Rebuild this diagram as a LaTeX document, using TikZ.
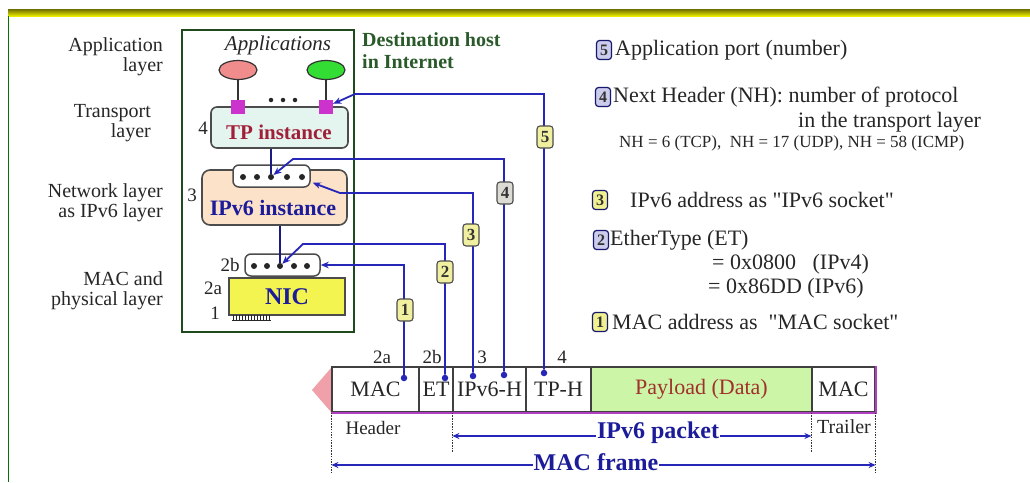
\documentclass[tikz,border=0pt]{standalone}
\usepackage{fontspec}
\setmainfont{Liberation Serif}
\usetikzlibrary{arrows.meta,calc,shapes.geometric}
\definecolor{cblue}{HTML}{2626B8}
\definecolor{hostg}{HTML}{1E4A1E}
\definecolor{destg}{HTML}{2A5A2A}
\definecolor{tpred}{HTML}{A0203A}
\definecolor{ipblue}{HTML}{1C1C9A}
\definecolor{peach}{HTML}{FBE2C8}
\definecolor{tpfill}{HTML}{E4F4EE}
\definecolor{nicy}{HTML}{F4F450}
\definecolor{payg}{HTML}{CDF5A8}
\definecolor{payred}{HTML}{A0302A}
\definecolor{lblf}{HTML}{F0F0A0}
\definecolor{lblg}{HTML}{DCDCD4}
\definecolor{mag}{HTML}{CC33CC}
\definecolor{fbot}{HTML}{B040C0}
\definecolor{appred}{HTML}{F08C8C}
\definecolor{appgreen}{HTML}{33DD33}
\definecolor{pinkt}{HTML}{F0A0A8}
\definecolor{icb}{HTML}{CCCCEC}
\definecolor{icy}{HTML}{F0F090}
\newcommand\myfs[2]{\fontsize{#1}{#2}\selectfont}
\begin{document}
\begin{tikzpicture}[x=1pt,y=-1pt,
  lay/.style={align=right, inner sep=0pt, font=\myfs{20}{20}, text=black!85},
  num/.style={inner sep=0pt, font=\myfs{19}{19}, text=black!85},
  rt/.style={inner sep=0pt, anchor=west, font=\myfs{22}{22}, text=black!85},
  tpbox/.style={draw=black!70, line width=1.6pt, rounded corners=6pt, fill=tpfill, minimum width=137pt, minimum height=41pt, inner sep=0pt},
  ipbox/.style={draw=black!70, line width=1.6pt, rounded corners=8pt, fill=peach, minimum width=145pt, minimum height=55pt, inner sep=0pt},
  dotbox/.style={draw=black!70, line width=1.5pt, rounded corners=6pt, fill=white, minimum height=22pt, inner sep=0pt},
  sdot/.style={circle, fill=black!85, minimum size=6pt, inner sep=0pt},
  edot/.style={circle, fill=black!85, minimum size=4.5pt, inner sep=0pt},
  fdot/.style={circle, fill=cblue, minimum size=6.5pt, inner sep=0pt},
  sq/.style={fill=mag, minimum size=14pt, inner sep=0pt},
  field/.style={draw=black!75, line width=1.2pt, minimum height=45pt, inner sep=0pt, font=\myfs{22}{22}, fill=white, text=black!85},
  link/.style={draw=cblue!70!black, line width=1.4pt},
  conn/.style={draw=cblue, line width=1.8pt},
  connarr/.style={conn, -{Stealth[length=8pt,width=6.5pt]}},
  cl/.style={draw=black!70, fill=lblf, rounded corners=3pt, line width=1.1pt, minimum width=16pt, minimum height=22pt, inner sep=0pt, font=\myfs{17}{17}\bfseries, text=black!80},
  ic/.style={draw=cblue!60!black, rounded corners=3pt, line width=1.2pt, minimum width=15pt, minimum height=19pt, inner sep=0pt, font=\myfs{16}{16}\bfseries, text=black!80},
  dotl/.style={draw=black!80, line width=1.6pt, dash pattern=on 1.5pt off 1.2pt},
  dimarr/.style={draw=cblue, line width=1.5pt, {Stealth[length=7pt,width=6pt]}-{Stealth[length=7pt,width=6pt]}},
  dimlbl/.style={fill=white, inner sep=1pt, font=\myfs{24}{24}\bfseries, text=ipblue}
]
\useasboundingbox (0,0) rectangle (1030,482);
\fill[white] (0,0) rectangle (1030,482);
\shade[top color=olive!85!black, bottom color=yellow!85!olive] (8,9) rectangle (1030,16);
\draw[green!45!black, line width=1.5pt] (8.5,16) -- (8.5,482);

% left layer labels
\node[lay, anchor=east] (lapp) at (163,57) {Application\\layer};
\node[lay, anchor=east] (ltr) at (151,123) {Transport\\layer};
\node[lay, anchor=east] (lnet) at (163,203) {Network layer\\as IPv6 layer};
\node[lay, anchor=east] (lmac) at (163,291) {MAC and\\physical layer};

% host
\node[draw=hostg, line width=2.5pt, minimum width=172pt, minimum height=302pt, inner sep=0pt] (host) at (268,181) {};
\node[inner sep=0pt, font=\myfs{21}{21}\itshape, text=black!85] (apps) at (278,45) {Applications};
\node[align=left, anchor=west, inner sep=0pt, font=\myfs{20}{22}\bfseries, text=destg] (dest) at (362,51) {Destination host\\in Internet};

\node[ellipse, draw=black!80, line width=1.2pt, fill=appred, minimum width=38pt, minimum height=19pt, inner sep=0pt] (e1) at (238,70) {};
\node[ellipse, draw=black!80, line width=1.2pt, fill=appgreen, minimum width=38pt, minimum height=19pt, inner sep=0pt] (e2) at (326,70) {};

\node[tpbox] (tp) at (279.5,127.5) {};
\node[inner sep=0pt, font=\myfs{21}{21}\bfseries, text=tpred] (tpt) at (279,132) {TP instance};
\node[sq] (s1) at (238,107) {};
\node[sq] (s2) at (326,107) {};
\draw[black!80, line width=1.1pt] (e1) -- (s1);
\draw[black!80, line width=1.1pt] (e2) -- (s2);
\foreach \x [count=\i] in {271,283,295} \node[edot] (ell\i) at (\x,100) {};

\node[ipbox] (ipv6) at (274.5,197.5) {};
\node[inner sep=0pt, font=\myfs{22}{22}\bfseries, text=ipblue] (ipt) at (273,208) {IPv6 instance};
\node[dotbox, minimum width=77pt] (ipd) at (271.5,176) {};
\foreach \x [count=\i] in {243,257,271,287,302} \node[sdot] (id\i) at (\x,177) {};

\node[dotbox, minimum width=75pt] (md) at (282.5,265) {};
\foreach \x [count=\i] in {254,267,280,294,307} \node[sdot] (md\i) at (\x,266) {};

\node[draw=black!70, line width=1.5pt, fill=nicy, minimum width=116pt, minimum height=37pt, inner sep=0pt, font=\myfs{24}{24}\bfseries, text=ipblue] (nic) at (287,296.5) {NIC};
\foreach \x in {233,236,...,269} \draw[black!85, line width=0.9pt] (\x,315) -- (\x,320);
\draw[black!85, line width=1pt] (232,320) -- (271,320);

\draw[link] (tp.south -| id3) -- (id3);
\draw[link] (ipv6.south -| md3) -- (md3);

\node[num] (n4) at (203,128) {4};
\node[num] (n3) at (192,195) {3};
\node[num] (n2b) at (230,265) {2b};
\node[num] (n2a) at (213,288) {2a};
\node[num] (n1) at (215,313) {1};

% frame
\fill[pinkt] (312,390) -- (331,368) -- (331,412) -- cycle;
\node[field, minimum width=87pt] (f1) at (375.5,389.5) {MAC};
\node[field, minimum width=34pt] (f2) at (436,389.5) {ET};
\node[field, minimum width=73pt] (f3) at (489.5,389.5) {IPv6-H};
\node[field, minimum width=65pt] (f4) at (558.5,389.5) {TP-H};
\node[field, minimum width=221pt, fill=payg, text=payred] (f5) at (701.5,389.5) {Payload (Data)};
\node[field, minimum width=63pt] (f6) at (843.5,389.5) {MAC};
\draw[fbot, line width=2.2pt] (f1.south west) -- (f6.south east) -- (f6.north east);

\node[num] (t2a) at (382,357) {2a};
\node[num] (t2b) at (432,357) {2b};
\node[num] (t3) at (482,357) {3};
\node[num] (t4) at (562,357) {4};

\node[inner sep=0pt, font=\myfs{19}{19}, text=black!85] (hdr) at (373,428) {Header};
\node[inner sep=0pt, font=\myfs{20}{20}, text=black!85] (trl) at (844,427) {Trailer};

\draw[dotl] (f1.south west) -- ++(0,60);
\draw[dotl] (f3.south west) -- ++(0,40);
\draw[dotl] (f6.south west) -- ++(0,40);
\draw[dotl] (f6.south east) -- ++(0,60);

\draw[dimarr] (f3.south west |- 0,436) -- (f6.south west |- 0,436);
\node[dimlbl] (ipp) at (658,433) {IPv6 packet};
\draw[dimarr] (f1.south west |- 0,465) -- (f6.south east |- 0,465);
\node[dimlbl] (macf) at (596,462) {MAC frame};

% connectors
\node[fdot] (fp1) at (404,378) {};
\node[fdot] (fp2) at (445,378) {};
\node[fdot] (fp3) at (473,376) {};
\node[fdot] (fp4) at (504,375) {};
\node[fdot] (fp5) at (544,373) {};
\draw[connarr] (fp1) |- (md.east);
\draw[connarr] (fp2) -- (fp2 |- 0,244) -- (303,244) -- (md3);
\draw[connarr] (fp3) -- (fp3 |- 0,193) -- (340,193) -- ($(ipd.south east)+(2,-5)$);
\draw[connarr] (fp4) -- (fp4 |- 0,159) -- (293,159) -- (id3);
\draw[connarr] (fp5) -- (fp5 |- 0,94) -- (355,94) -- (s2);
\node[cl] (c1) at (405,310) {1};
\node[cl] (c2) at (445,272) {2};
\node[cl] (c3) at (471,235) {3};
\node[cl, fill=lblg] (c4) at (505,193) {4};
\node[cl] (c5) at (545,137) {5};

% right legend
\node[ic, fill=icb] (r5) at (604,50) {5};
\node[rt] (t5) at (615,50) {Application port (number)};
\node[ic, fill=icb] (r4) at (603,97) {4};
\node[rt] (t4a) at (613,97) {Next Header (NH): number of protocol};
\node[rt] (t4b) at (798,122) {in the transport layer};
\node[rt, font=\myfs{17}{17}] (t4c) at (619,143) {NH = 6 (TCP),~ NH = 17 (UDP), NH = 58 (ICMP)};
\node[ic, fill=icy] (r3) at (600,200) {3};
\node[rt] (t3a) at (630,200) {IPv6 address as \textquotedbl IPv6 socket\textquotedbl};
\node[ic, fill=icb] (r2) at (601,240) {2};
\node[rt] (t2a) at (610,240) {EtherType (ET)};
\node[rt] (t2b) at (712,264) {= 0x0800~~~(IPv4)};
\node[rt] (t2c) at (708,288) {= 0x86DD (IPv6)};
\node[ic, fill=icy] (r1) at (600,322) {1};
\node[rt] (t1a) at (612,322) {MAC address as~ \textquotedbl MAC socket\textquotedbl};
\end{tikzpicture}
\end{document}
